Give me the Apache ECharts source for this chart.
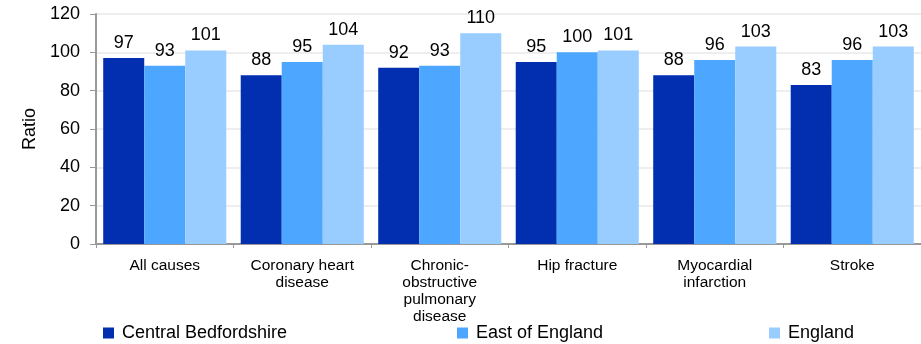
<!DOCTYPE html>
<html>
<head>
<meta charset="utf-8">
<script src="https://cdn.jsdelivr.net/npm/echarts@6/dist/echarts.min.js"></script>
<style>html,body{margin:0;padding:0;background:#fff;}#c{width:921px;height:344px;}</style>
</head>
<body>
<div id="c"></div>
<script>
var categories = ["All causes", "Coronary heart\ndisease", "Chronic-\nobstructive\npulmonary\ndisease", "Hip fracture", "Myocardial\ninfarction", "Stroke"];
var seriesNames = ["Central Bedfordshire", "East of England", "England"];
var centralBedfordshire = [97, 88, 92, 95, 88, 83];
var eastOfEngland = [93, 95, 93, 100, 96, 96];
var england = [101, 104, 110, 101, 103, 103];
var yTicks = {min: 0, max: 120, interval: 20};

var colors = ["#022EB0", "#4DA6FF", "#99CCFF"];
var font = "Liberation Sans, Arial, sans-serif";
var chart = echarts.init(document.getElementById('c'), null, {renderer: 'canvas'});
function mk(name, data, color) {
  return {
    name: name, type: 'bar', data: data, barGap: '0%', barCategoryGap: '10.5%',
    itemStyle: {color: color},
    label: {show: true, position: 'top', distance: 6, color: '#000', fontSize: 18, fontFamily: font},
    emphasis: {disabled: true}
  };
}
function lg(name, left) {
  return {
    data: [name], left: left, top: 324, padding: 0, itemWidth: 11, itemHeight: 11, itemGap: 0,
    icon: 'rect', textStyle: {fontSize: 18, color: '#000', fontFamily: font, padding: [0,0,0,3]},
    selectedMode: false
  };
}
chart.setOption({
  animation: false,
  color: colors,
  grid: {left: 96, right: 0, top: 14, bottom: 100, containLabel: false},
  legend: [lg(seriesNames[0], 103), lg(seriesNames[1], 457), lg(seriesNames[2], 769)],
  xAxis: {
    type: 'category', data: categories,
    axisLine: {lineStyle: {color: '#999', width: 2}},
    axisTick: {show: true, length: 4, lineStyle: {color: '#999'}},
    axisLabel: {fontSize: 15.5, lineHeight: 17, color: '#000', fontFamily: font, margin: 13, interval: 0}
  },
  yAxis: {
    type: 'value', min: yTicks.min, max: yTicks.max, interval: yTicks.interval,
    name: 'Ratio', nameLocation: 'middle', nameGap: 56, nameRotate: 90,
    nameTextStyle: {fontSize: 18, color: '#000', fontFamily: font},
    axisLine: {show: true, lineStyle: {color: '#999', width: 2}},
    axisTick: {show: true, length: 6, lineStyle: {color: '#999'}},
    axisLabel: {fontSize: 18, color: '#000', fontFamily: font, margin: 16},
    splitLine: {lineStyle: {color: '#eeeeee', width: 2}}
  },
  series: [mk(seriesNames[0], centralBedfordshire, colors[0]), mk(seriesNames[1], eastOfEngland, colors[1]), mk(seriesNames[2], england, colors[2])]
});
</script>
</body>
</html>
